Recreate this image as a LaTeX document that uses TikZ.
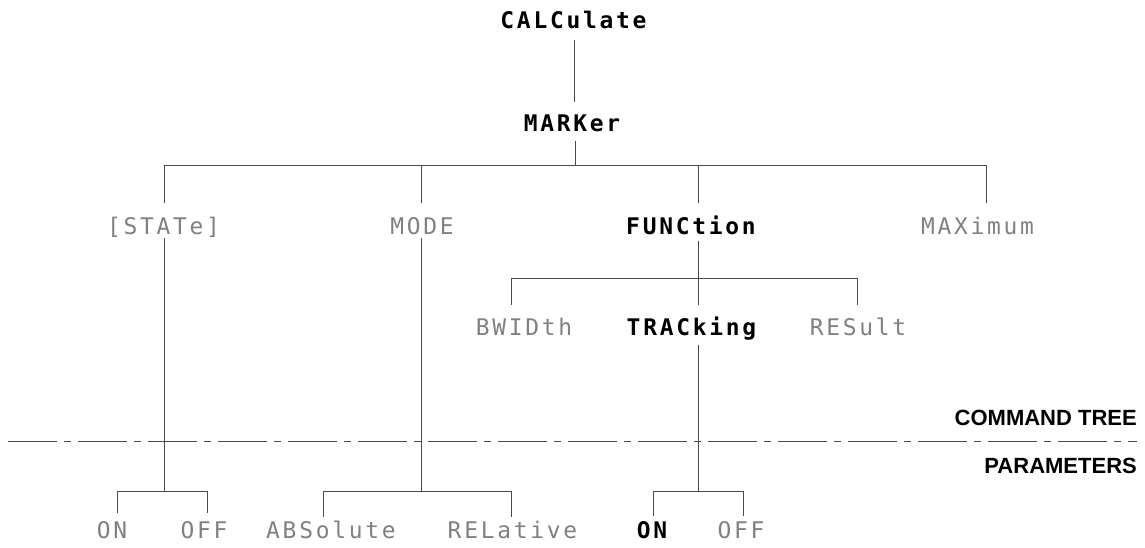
\documentclass[tikz,border=0pt]{standalone}
\usepackage{fontspec}
\newfontfamily\monofont[LetterSpace=12]{DejaVu Sans Mono}
\newfontfamily\headfont{Liberation Sans}
\definecolor{lightlbl}{HTML}{808080}
\definecolor{linecol}{HTML}{4A4A4A}
\begin{document}
\begin{tikzpicture}[x=1pt,y=-1pt,
  lbl/.style={inner sep=0pt, anchor=base, font=\monofont\fontsize{22.9}{24}\selectfont},
  light/.style={lbl, text=lightlbl},
  heavy/.style={lbl, text=black, font=\monofont\bfseries\fontsize{22.9}{24}\selectfont},
  side/.style={inner sep=0pt, anchor=base east, text=black, font=\headfont\bfseries\fontsize{22}{24}\selectfont},
  hd/.style 2 args={text height=#1pt, text depth=#2pt},
  conn/.style={draw=linecol, line width=0.9pt},
  dashdot/.style={draw=linecol, line width=0.9pt, dash pattern=on 49pt off 7pt on 7pt off 7pt}]
\useasboundingbox (0,0) rectangle (1145,547);

% nodes (anchor = base line)
\node[heavy, hd={17}{11.65}] (calc)   at (573.5,28.35) {CALCulate};
\node[heavy, hd={29.35}{9.65}] (marker) at (572,131.35) {MARKer};

\node[light, hd={31.35}{3.65}] (state) at (163.5,234.35) {[STATe]};
\node[light, hd={31.35}{3.65}] (mode)  at (422,234.35) {MODE};
\node[heavy, hd={31.35}{6.65}] (func)  at (691,234.35) {FUNCtion};
\node[light, hd={31.35}{3.65}] (maxi)  at (977.5,234.35) {MAXimum};

\node[light, hd={30.35}{3}]    (bwid)  at (524,335.35) {BWIDth};
\node[heavy, hd={30.35}{9.65}] (track) at (691.5,335.35) {TRACking};
\node[light, hd={30.35}{3}]    (resu)  at (858,335.35) {RESult};

\node[light, hd={25.35}{3}] (on1)  at (112,538.35) {ON};
\node[light, hd={25.35}{3}] (off1) at (204,538.35) {OFF};
\node[light, hd={21.35}{3}] (abs)  at (331,538.35) {ABSolute};
\node[light, hd={21.35}{3}] (rel)  at (512.5,538.35) {RELative};
\node[heavy, hd={22.35}{3}] (on2)  at (652,538.35) {ON};
\node[light, hd={22.35}{3}] (off2) at (741,538.35) {OFF};

\node[side] (cmdtree) at (1137,425.35) {COMMAND TREE};
\node[side] (params)  at (1137,473.35) {PARAMETERS};

% divider
\coordinate (dl) at (8,441);
\coordinate (dr) at (1137,441);
\draw[dashdot] (dl) -- (dr);

% connectors
\draw[conn] ([xshift=0.5pt]calc.south) -- ([xshift=0.5pt]calc.south |- marker.north);
\draw[conn] ([xshift=3pt]marker.south) -- ++(0,25);
\draw[conn] ([xshift=0.5pt]state.north) -- ++(0,-37) -| ([xshift=8.5pt]maxi.north);
\draw[conn] ([xshift=-1pt]mode.north) -- ++(0,-37);
\draw[conn] ([xshift=7pt]func.north) -- ++(0,-37);

\draw[conn] ([xshift=7pt]func.south) -- ++(0,38);
\draw[conn] ([xshift=-13pt]bwid.north) -- ++(0,-26) -| ([xshift=-1pt]resu.north);
\draw[conn] ([xshift=6.5pt]track.north) -- ++(0,-26);

\draw[conn] ([xshift=0.5pt]state.south) -- ++(0,254);
\draw[conn] ([xshift=5pt]on1.north) -- ++(0,-21) -| ([xshift=3pt]off1.north);

\draw[conn] ([xshift=-1pt]mode.south) -- ++(0,254);
\draw[conn] ([xshift=-8pt]abs.north) -- ++(0,-25) -| ([xshift=-1.5pt]rel.north);

\draw[conn] ([xshift=6.5pt]track.south) -- ++(0,147);
\draw[conn] ([xshift=1pt]on2.north) -- ++(0,-24) -| ([xshift=2pt]off2.north);
\end{tikzpicture}
\end{document}
